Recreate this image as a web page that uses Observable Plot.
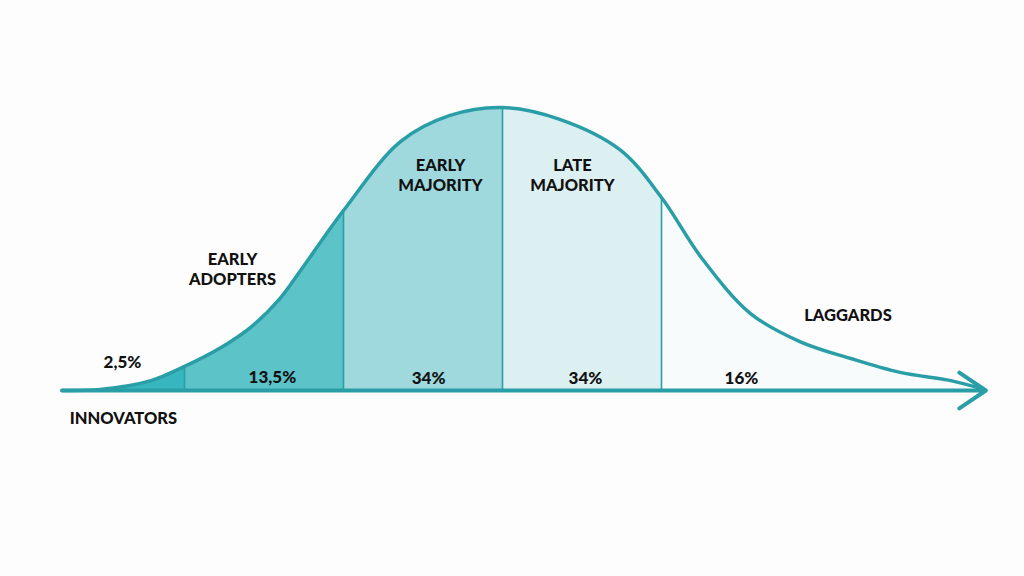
<!DOCTYPE html>
<html>
<head>
<meta charset="utf-8">
<script src="https://cdn.jsdelivr.net/npm/d3@7"></script>
<script src="https://cdn.jsdelivr.net/npm/@observablehq/plot@0.6"></script>
<style>
  html, body { margin: 0; padding: 0; background: #fdfdfd; }
  #chart svg { display: block; }
</style>
</head>
<body>
<div id="chart"></div>
<script>
// Adoption curve: position in standard deviations, relative height (peak = 1)
const curveX = [-2.77, -2.53, -2.21, -2.0, -1.77, -1.58, -1.40, -1.27, -1.0, -0.64, -0.33, 0.0, 0.36, 0.74, 1.0, 1.25, 1.56, 1.87, 2.19, 2.50, 2.82, 3.01];
const curveY = [0.0, 0.004, 0.035, 0.085, 0.152, 0.225, 0.325, 0.424, 0.636, 0.880, 0.972, 1.0, 0.958, 0.850, 0.682, 0.470, 0.272, 0.173, 0.113, 0.064, 0.035, 0.007];

// Segments
const categories = ["INNOVATORS", "EARLY\nADOPTERS", "EARLY\nMAJORITY", "LATE\nMAJORITY", "LAGGARDS"];
const shares = ["2,5%", "13,5%", "34%", "34%", "16%"];
const boundaries = [-2, -1, 0, 1]; // segment edges in standard deviations

// Build curve points and per-segment area points
const curve = curveX.map((x, i) => ({x, y: curveY[i]}));
const edges = [-Infinity, ...boundaries, Infinity];
const areaPts = [];
categories.forEach((c, k) => {
  curve.forEach(p => {
    if (p.x >= edges[k] && p.x <= edges[k + 1]) areaPts.push({...p, seg: c});
  });
});
const dividers = boundaries.map(b => ({x: b, y: curve.find(p => p.x === b).y}));

// Label layout (data coordinates); multi-line labels are split into one text per line
const shareLayout = [[-2.39, 0.099], [-1.447, 0.046], [-0.465, 0.044], [0.522, 0.044], [1.503, 0.044]];
const catLayout = [[-2.384, -0.099], [-1.698, 0.428], [-0.390, 0.760], [0.440, 0.760], [2.173, 0.265]];
const lineStep = 0.071; // vertical step between label lines, in y units
const shareLabels = shares.map((t, i) => ({t, x: shareLayout[i][0], y: shareLayout[i][1]}));
const catLabels = categories.flatMap((t, i) => {
  const lines = t.split("\n");
  const n = lines.length;
  return lines.map((line, j) => ({t: line, x: catLayout[i][0], y: catLayout[i][1] + ((n - 1) / 2 - j) * lineStep}));
});

const teal = "#2a9ea6";
const font = "Lato, 'Open Sans', sans-serif";

const plot = Plot.plot({
  width: 1024,
  height: 576,
  marginLeft: 25,
  marginRight: 45,
  marginTop: 107,
  marginBottom: 186,
  x: {domain: [-3, 3], axis: null},
  y: {domain: [0, 1], axis: null},
  color: {domain: categories, range: ["#38b6bf", "#5cc3c9", "#9fd9de", "#dcf0f2", "#f7fbfb"]},
  style: {background: "#fdfdfd", overflow: "visible"},
  marks: [
    Plot.areaY(areaPts, {x: "x", y1: 0, y2: "y", z: "seg", fill: "seg", curve: "catmull-rom"}),
    Plot.ruleX(dividers, {x: "x", y1: 0, y2: "y", stroke: teal, strokeWidth: 1.6}),
    Plot.line(curve, {x: "x", y: "y", curve: "catmull-rom", stroke: teal, strokeWidth: 3.5, strokeLinecap: "round"}),
    Plot.arrow([{x1: -2.77, x2: 3.04}], {x1: "x1", x2: "x2", y1: 0, y2: 0, stroke: teal, strokeWidth: 4, headLength: 12, headAngle: 68, strokeLinecap: "round", strokeLinejoin: "round"}),
    Plot.text(shareLabels, {x: "x", y: "y", text: "t", fontSize: 17, fontWeight: 900, fontFamily: font, fill: "#111", letterSpacing: 0.6}),
    Plot.text(catLabels, {x: "x", y: "y", text: "t", fontSize: 16.5, fontWeight: 900, fontFamily: font, fill: "#111", letterSpacing: 1})
  ]
});
document.getElementById("chart").appendChild(plot);
</script>
</body>
</html>
